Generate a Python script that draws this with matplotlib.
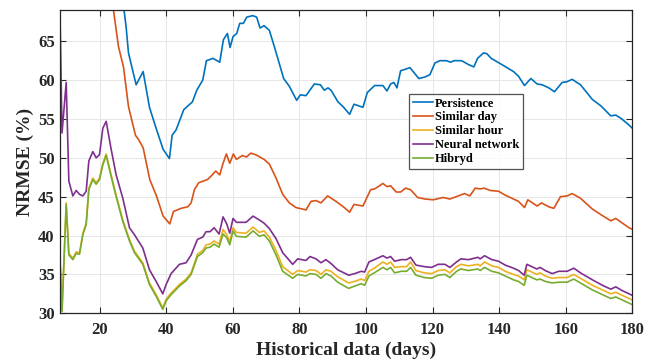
import matplotlib
matplotlib.use("Agg")
import matplotlib.pyplot as plt

# Persistence
days_per = [8, 15, 20, 24, 27, 28, 28.7, 31, 33.1, 35, 37, 39.1, 41, 41.8, 43, 45.3, 47.9, 49.2,
            51, 52.1, 54.1, 56.1, 57.2, 58.4, 59.2, 60.1, 61.2, 62.1, 63.2, 64.2, 66, 67.2, 68.2,
            69.4, 71, 72.5, 75.3, 77, 79.2, 80.3, 82, 84.5, 86.3, 87.5, 88.6, 89.5, 91.6, 93.1,
            95.1, 96.4, 99.1, 100.4, 102.6, 105.1, 106.3, 107.4, 108.4, 109.3, 110.4, 113.2,
            115.9, 117.7, 119.2, 120.7, 122.2, 124.2, 125.4, 126.4, 128.7, 130.8, 132.4, 133.5,
            135.3, 136.3, 137.6, 140.8, 144.3, 145.8, 147.6, 149.5, 151.4, 152.9, 154.9, 156.6,
            158.9, 160.4, 161.9, 164.4, 168, 170.5, 173.5, 175, 176.5, 178.5, 180]
persistence = [98, 88, 81, 75, 70.3, 66.8, 63.5, 59.4, 61.1, 56.5, 53.8, 51.1, 49.9, 52.9, 53.6,
               56.2, 57.2, 58.7, 60.0, 62.5, 62.8, 62.3, 65.2, 66.0, 64.2, 65.6, 66.0, 67.3, 67.3,
               68.1, 68.3, 68.1, 66.7, 67.0, 66.4, 64.3, 60.2, 59.2, 57.4, 58.1, 58.0, 59.5, 59.4,
               58.7, 59.0, 58.7, 57.2, 56.6, 55.6, 56.9, 56.5, 58.4, 59.3, 59.3, 58.6, 59.5, 59.7,
               59.0, 61.2, 61.6, 60.2, 60.4, 60.7, 62.2, 62.5, 62.5, 62.3, 62.5, 62.5, 62.0, 61.7,
               62.8, 63.5, 63.4, 62.8, 62.0, 61.1, 60.5, 59.3, 60.2, 59.5, 59.4, 59.0, 58.5, 59.7,
               59.8, 60.1, 59.4, 57.5, 56.7, 55.4, 55.5, 55.1, 54.4, 53.8]

# Similar day
days_sd = [8, 15, 20, 24, 25.7, 27.2, 28.7, 30.8, 31.8, 33.1, 35.1, 37.1, 39.1, 41.1, 42.2, 44.5,
           46.5, 47.5, 48.5, 49.8, 52.4, 53.4, 54.9, 56.1, 57.1, 58.1, 59.1, 60.2, 61.1, 62.9,
           64.1, 65.4, 66.9, 69.4, 71, 73, 75, 77, 79, 82, 83.5, 85, 86.5, 88.5, 91, 93.5, 95.1,
           96.4, 99.1, 101.4, 102.6, 105.1, 106.3, 107.4, 109.1, 110.4, 111.9, 113.4, 115.5,
           117.7, 120.2, 123.2, 125.2, 127.7, 129.6, 131.2, 132.8, 134.3, 135.5, 137.3, 139.8,
           141.8, 144.3, 145.8, 147.6, 148.6, 151.4, 152.7, 154.9, 156.4, 158.4, 160.4, 161.9,
           164.4, 168, 170.5, 173.5, 175, 177, 179, 180]
similar_day = [95, 84, 76, 69.6, 64.3, 61.7, 56.6, 52.9, 52.3, 51.3, 47.2, 45.1, 42.5, 41.5, 43.1,
               43.5, 43.7, 44.2, 45.9, 46.8, 47.2, 47.6, 48.3, 47.8, 49.3, 50.5, 49.3, 50.5, 49.8,
               50.3, 50.1, 50.6, 50.4, 49.8, 49.2, 47.4, 45.3, 44.2, 43.6, 43.3, 44.4, 44.5, 44.2,
               45.1, 44.4, 43.6, 43.0, 44.0, 43.8, 45.9, 46.0, 46.7, 46.3, 46.4, 45.6, 45.6, 46.1,
               45.9, 44.9, 44.7, 44.6, 44.9, 44.7, 45.1, 45.4, 45.1, 46.1, 46.0, 46.1, 45.8, 45.7,
               45.2, 44.7, 44.4, 43.6, 44.6, 43.8, 44.2, 43.7, 43.5, 45.0, 45.1, 45.4, 44.8, 43.4,
               42.7, 41.9, 42.2, 41.6, 41.0, 40.8]

# Similar hour, Neural network, Hibryd
days_nn = [8, 8.75, 10, 10.8, 12, 13, 14, 15, 16, 16.8, 18, 19, 20, 21, 22, 23.5, 25, 27, 29, 30.5,
           33, 35, 37, 39, 40, 41.5, 44, 46, 47.5, 49.4, 51, 52, 53.2, 54.4, 55.9, 57.1, 58.2,
           59.1, 60.1, 61.1, 64, 66.1, 68, 69.4, 71, 73, 75, 78, 79.5, 82, 83.2, 85, 86.5, 88,
           89.5, 91.5, 94.8, 96.6, 98.6, 99.6, 100.9, 102.5, 105.1, 106.3, 107.4, 108.6, 110.6,
           112.2, 113.4, 115, 117.5, 119.7, 121.7, 123.7, 125.2, 127.2, 128.5, 130.8, 133.6,
           134.3, 135.6, 137.8, 139.8, 141.8, 144.3, 145.8, 147.5, 148.3, 150.3, 151.3, 152.3,
           153.8, 155.9, 157.9, 160.4, 162.4, 164.4, 168, 171, 173.5, 175, 177, 179, 180]
neural_net = [72, 53.2, 59.7, 47.0, 45.1, 45.8, 45.3, 45.1, 45.7, 49.6, 50.8, 50.0, 50.4, 53.8,
              54.7, 51.1, 47.8, 44.8, 41.0, 40.1, 38.4, 35.6, 34.1, 32.5, 33.7, 35.1, 36.3, 36.5,
              37.5, 39.5, 39.8, 40.5, 40.5, 41.0, 40.2, 42.4, 41.5, 40.3, 42.2, 41.7, 41.7, 42.5,
              42.0, 41.6, 40.9, 39.6, 37.8, 36.3, 37.0, 36.8, 37.3, 37.0, 36.5, 36.9, 36.4, 35.6,
              34.9, 35.1, 35.4, 35.3, 36.6, 36.9, 37.4, 37.1, 37.3, 36.7, 36.9, 36.9, 37.2, 36.2,
              36.0, 35.9, 36.3, 36.3, 35.9, 36.6, 37.0, 36.9, 37.2, 37.0, 37.4, 36.9, 36.7, 36.2,
              35.8, 35.5, 34.9, 36.3, 35.9, 35.7, 35.9, 35.5, 35.1, 35.4, 35.4, 35.8, 35.2, 34.3,
              33.6, 33.1, 33.4, 32.9, 32.5, 32.3]
similar_hour = [38.0, 30.4, 44.2, 37.7, 37.1, 37.9, 37.8, 40.3, 41.6, 46.1, 47.4, 46.8, 47.4,
                49.3, 50.5, 47.8, 45.2, 42.0, 39.5, 38.0, 36.5, 33.9, 32.4, 30.7, 31.8, 32.6,
                33.7, 34.4, 35.2, 37.6, 38.1, 38.8, 38.9, 39.3, 38.9, 40.8, 40.1, 39.2, 41.0,
                40.4, 40.3, 41.1, 40.4, 40.6, 39.8, 38.1, 36.0, 35.0, 35.5, 35.3, 35.6, 35.5,
                35.0, 35.6, 35.4, 34.7, 33.9, 34.1, 34.4, 34.2, 35.4, 35.8, 36.6, 36.3, 36.6,
                35.9, 36.0, 36.0, 36.6, 35.5, 35.2, 35.1, 35.5, 35.6, 35.2, 36.0, 36.3, 36.1,
                36.3, 36.1, 36.6, 36.1, 35.9, 35.4, 35.0, 34.8, 34.3, 35.6, 35.2, 35.0, 35.2,
                34.8, 34.5, 34.6, 34.6, 35.0, 34.5, 33.6, 33.0, 32.5, 32.7, 32.3, 31.9, 31.7]
hibryd = [39.0, 30.2, 44.0, 37.5, 36.9, 37.7, 37.6, 40.1, 41.4, 45.9, 47.2, 46.6, 47.2, 49.1,
          50.3, 47.6, 45.0, 41.8, 39.3, 37.8, 36.3, 33.7, 32.2, 30.5, 31.6, 32.4, 33.5, 34.2,
          35.0, 37.3, 37.8, 38.4, 38.5, 38.9, 38.5, 40.2, 39.7, 38.8, 40.6, 39.9, 39.8, 40.6,
          39.9, 40.1, 39.3, 37.5, 35.4, 34.5, 35.0, 34.8, 35.1, 35.0, 34.5, 35.1, 34.8, 34.0,
          33.2, 33.5, 33.8, 33.6, 34.8, 35.2, 35.9, 35.6, 35.9, 35.2, 35.4, 35.4, 35.9, 34.9,
          34.6, 34.5, 34.9, 35.0, 34.6, 35.4, 35.7, 35.5, 35.7, 35.5, 35.9, 35.4, 35.2, 34.8,
          34.3, 34.1, 33.6, 34.9, 34.5, 34.3, 34.4, 34.1, 33.9, 34.0, 34.0, 34.4, 33.9, 33.0,
          32.4, 31.9, 32.1, 31.7, 31.3, 31.1]

plt.rcParams["font.family"] = ["Liberation Serif", "DejaVu Serif"]
plt.rcParams["font.weight"] = "bold"

fig = plt.figure(figsize=(6.6, 3.63), dpi=100)
ax = fig.add_axes([0.0902, 0.137, 0.868, 0.835])

lw = 1.2
ax.plot(days_per, persistence, color="#0072BD", lw=lw, label="Persistence")
ax.plot(days_sd, similar_day, color="#D95319", lw=lw, label="Similar day")
ax.plot(days_nn, similar_hour, color="#EDB120", lw=lw, label="Similar hour")
ax.plot(days_nn, neural_net, color="#7E2F8E", lw=lw, label="Neural network")
ax.plot(days_nn, hibryd, color="#77AC30", lw=lw, label="Hibryd")

ax.set_xlim(8, 180)
ax.set_ylim(30, 69)
ax.set_xticks(range(20, 181, 20))
ax.set_yticks(range(30, 66, 5))
ax.grid(True, color="#e6e6e6", lw=0.7)
ax.set_axisbelow(True)
ax.tick_params(direction="in", top=True, right=True, labelsize=12, length=4,
               width=0.8, colors="#262626", labelcolor="#262626")
ax.tick_params(axis="x", pad=6)
for lab in ax.get_xticklabels() + ax.get_yticklabels():
    lab.set_fontweight("bold")
for s in ax.spines.values():
    s.set_color("#262626")
    s.set_linewidth(0.9)

ax.set_xlabel("Historical data (days)", fontsize=14, fontweight="bold", color="#262626", labelpad=3)
ax.set_ylabel("NRMSE (%)", fontsize=14, fontweight="bold", color="#262626", labelpad=3)

leg = ax.legend(loc="upper left", bbox_to_anchor=(0.61, 0.724), fontsize=9, frameon=True,
                fancybox=False, edgecolor="#262626", handlelength=1.6, handletextpad=0.2,
                borderpad=0.3, labelspacing=0.15, borderaxespad=0)
leg.get_frame().set_linewidth(0.9)
for t in leg.get_texts():
    t.set_fontweight("bold")

fig.savefig("out.png", dpi=100)
